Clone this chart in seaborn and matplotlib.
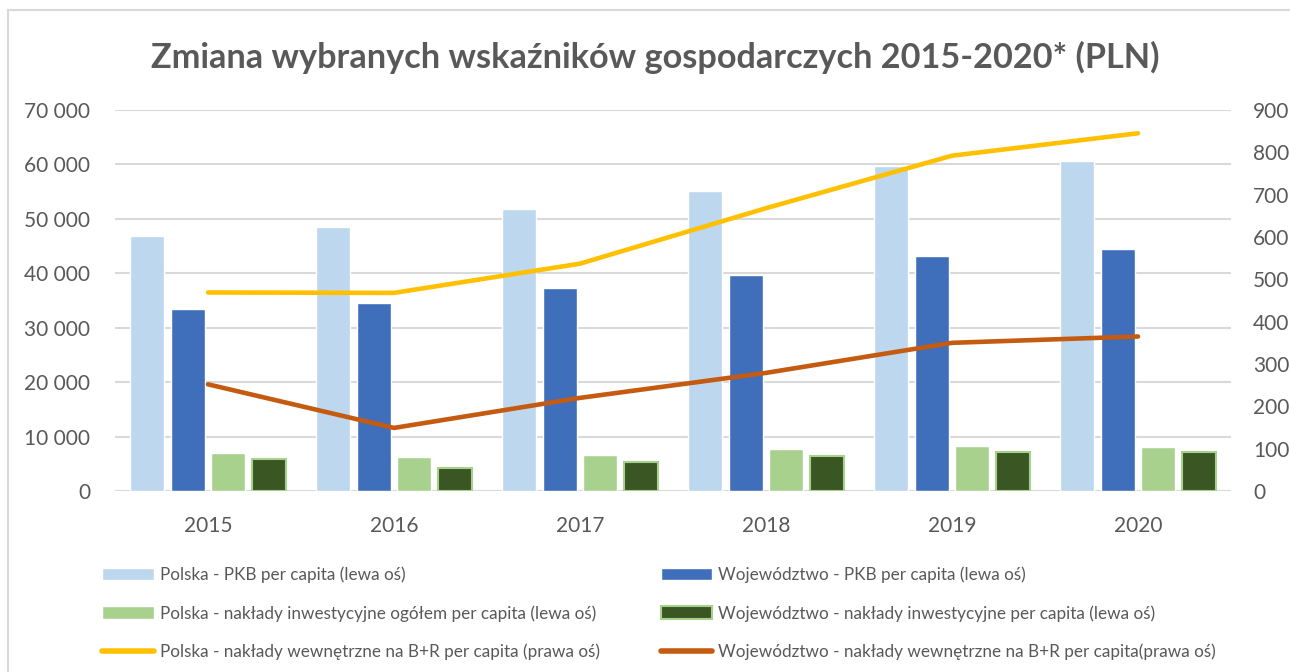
import numpy as np
import pandas as pd
import seaborn as sns
import matplotlib.pyplot as plt
from matplotlib.patches import Patch, Rectangle
from matplotlib.lines import Line2D
from matplotlib.ticker import FuncFormatter

# data
years = ["2015", "2016", "2017", "2018", "2019", "2020"]
pl_pkb = [46900, 48500, 51800, 55200, 59700, 60600]
woj_pkb = [33400, 34500, 37300, 39600, 43100, 44400]
pl_inw = [7000, 6300, 6600, 7800, 8200, 8000]
woj_inw = [5800, 4200, 5400, 6500, 7100, 7100]
pl_br = [469, 468, 537, 668, 792, 845]
woj_br = [252, 149, 220, 279, 350, 365]

bar_names = ["Polska - PKB per capita (lewa oś)",
             "Województwo - PKB per capita (lewa oś)",
             "Polska - nakłady inwestycyjne ogółem per capita (lewa oś)",
             "Województwo - nakłady inwestycyjne per capita (lewa oś)"]
line_names = ["Polska - nakłady wewnętrzne na B+R per capita (prawa oś)",
              "Województwo - nakłady wewnętrzne na B+R per capita(prawa oś)"]
bar_colors = ["#BDD7EE", "#3F6EBB", "#A9D18E", "#3A5723"]
line_colors = ["#FFC000", "#C55A11"]

sns.set_style("white")
plt.rcParams['font.family'] = ['Lato', 'DejaVu Sans']
gray = "#595959"

df = pd.DataFrame({
    "rok": years * 4,
    "seria": np.repeat(bar_names, len(years)),
    "wartosc": pl_pkb + woj_pkb + pl_inw + woj_inw,
})

fig = plt.figure(figsize=(12.9, 6.72), dpi=100)
ax = fig.add_axes([115 / 1290, 1 - 491 / 672, 1116 / 1290, 381 / 672])

sns.barplot(data=df, x="rok", y="wartosc", hue="seria", hue_order=bar_names,
            palette=bar_colors, width=0.88, gap=0.17, ax=ax, legend=False,
            saturation=1, errorbar=None)
# dark green bars have a light green outline
for p in ax.patches[18:24]:
    p.set_edgecolor("#A9D18E")
    p.set_linewidth(1.5)

ax.set_ylim(0, 70000)
ax.set_xlim(-0.5, 5.5)
ax.set_yticks(range(0, 70001, 10000))
ax.yaxis.set_major_formatter(FuncFormatter(lambda v, _: f"{int(v):,}".replace(",", " ")))
ax.grid(axis="y", color="#D9D9D9", linewidth=1.5)
ax.set_axisbelow(True)
for s in ax.spines.values():
    s.set_visible(False)
ax.set_xlabel("")
ax.set_ylabel("")
ax.tick_params(axis="both", length=0, labelsize=15, labelcolor=gray)
ax.tick_params(axis="x", pad=18)
ax.tick_params(axis="y", pad=18)

ax2 = ax.twinx()
for vals, c in zip([pl_br, woj_br], line_colors):
    sns.lineplot(x=np.arange(len(years)), y=vals, color=c, linewidth=3.3,
                 ax=ax2, solid_capstyle="round")
ax2.set_ylim(0, 900)
ax2.set_yticks(range(0, 901, 100))
for s in ax2.spines.values():
    s.set_visible(False)
ax2.tick_params(axis="y", length=0, labelsize=15, labelcolor=gray, pad=16)
ax2.grid(False)

fig.text(0.508, 1 - 57 / 672, "Zmiana wybranych wskaźników gospodarczych 2015-2020* (PLN)",
         ha="center", va="center", fontsize=24.7, fontweight="bold", color=gray)

handles = [Patch(facecolor=bar_colors[0]), Patch(facecolor=bar_colors[1]),
           Patch(facecolor=bar_colors[2]),
           Patch(facecolor=bar_colors[3], edgecolor="#A9D18E", linewidth=1.5),
           Line2D([], [], color=line_colors[0], linewidth=4, solid_capstyle="round"),
           Line2D([], [], color=line_colors[1], linewidth=4, solid_capstyle="round")]
labels = bar_names + line_names
# legend fills column by column, so reorder to read row by row
order = [0, 2, 4, 1, 3, 5]
fig.legend([handles[i] for i in order], [labels[i] for i in order], ncol=2,
           loc="upper left", bbox_to_anchor=(87 / 1290, 1 - 551 / 672),
           frameon=False, fontsize=12.3, labelcolor=gray, handlelength=3.0, handleheight=0.75,
           handletextpad=0.35, columnspacing=3.6, labelspacing=1.3)

# light frame around the chart
fig.patches.append(Rectangle((8 / 1290, -0.1), 1.2, 1.1 - 10 / 672, transform=fig.transFigure,
                             fill=False, edgecolor="#D9D9D9", linewidth=1.5))

fig.savefig("out.png", dpi=100)
